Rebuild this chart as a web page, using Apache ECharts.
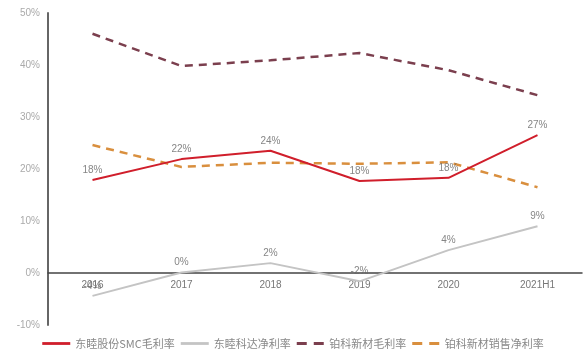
<!DOCTYPE html>
<html><head><meta charset="utf-8">
<script src="https://cdn.jsdelivr.net/npm/echarts@6/dist/echarts.min.js"></script>
<style>html,body{margin:0;padding:0;background:#fff}#c{width:586px;height:356px}</style>
</head><body><div id="c"></div>
<script>
const categories = ['2016','2017','2018','2019','2020','2021H1'];
const smcGross = [17.9, 21.9, 23.5, 17.7, 18.3, 26.5];
const kedaNet = [-4.4, 0.1, 1.9, -1.6, 4.4, 9.0];
const bokeGross = [46.0, 39.8, 40.9, 42.3, 39.0, 34.2];
const bokeNet = [24.6, 20.4, 21.2, 21.0, 21.3, 16.5];
const yTicks = ['-10%','0%','10%','20%','30%','40%','50%'];
const names = ['东睦股份SMC毛利率','东睦科达净利率','铂科新材毛利率','铂科新材销售净利率'];

const font = '"Noto Sans CJK SC", "Liberation Sans", sans-serif';
const lbl = {show:true, position:'top', distance:5, color:'#666', fontSize:10, fontFamily:'"Liberation Sans", sans-serif',
  formatter: p => Math.round(p.value) + '%'};
const solidIcon = 'path://M0,0H30V3H0Z';
const dashIcon = 'path://M0,0H10V3H0Z M17,0H27V3H17Z';
const chart = echarts.init(document.getElementById('c'));
chart.setOption({
  animation:false,
  grid:{left:48, right:4, top:13, bottom:31},
  legend:{bottom:2, left:'center', itemWidth:28, itemHeight:3, itemGap:6,
    data:[{name:names[0], icon:solidIcon},{name:names[1], icon:solidIcon},{name:names[2], icon:dashIcon},{name:names[3], icon:dashIcon}],
    textStyle:{color:'#888', fontSize:11, fontFamily:font}},
  xAxis:{type:'category', data:categories, boundaryGap:true, offset:-52,
    axisLine:{onZero:false, lineStyle:{color:'#444', width:1.5}},
    axisTick:{show:false},
    axisLabel:{color:'#777', fontSize:10, fontFamily:'"Liberation Sans", sans-serif', margin:7}},
  yAxis:{type:'value', min:-10, max:50, interval:10,
    axisLine:{show:true, lineStyle:{color:'#666', width:2}},
    axisTick:{show:false}, splitLine:{show:false},
    axisLabel:{color:'#aaa', fontSize:10, fontFamily:'"Liberation Sans", sans-serif', margin:8,
      formatter: v => yTicks[Math.round((v+10)/10)]}},
  series:[
    {name:names[0], type:'line', data:smcGross, symbol:'none', lineStyle:{color:'#d01e2b', width:2}, itemStyle:{color:'#d01e2b'}, z:5},
    {name:names[1], type:'line', data:kedaNet, symbol:'none', lineStyle:{color:'#c4c4c4', width:2}, itemStyle:{color:'#c4c4c4'}, z:4},
    {name:names[2], type:'line', data:bokeGross, symbol:'none', lineStyle:{color:'#7b3f4e', width:2.5, type:[8,6]}, itemStyle:{color:'#7b3f4e'}},
    {name:names[3], type:'line', data:bokeNet, symbol:'none', lineStyle:{color:'#d98f3e', width:2.5, type:[8,6]}, itemStyle:{color:'#d98f3e'}},
    {name:'smcLabels', type:'scatter', data:smcGross, symbolSize:0, label:lbl, silent:true, z:6},
    {name:'kedaLabels', type:'scatter', data:kedaNet, symbolSize:0, label:lbl, silent:true, z:6}
  ]
});
</script></body></html>
